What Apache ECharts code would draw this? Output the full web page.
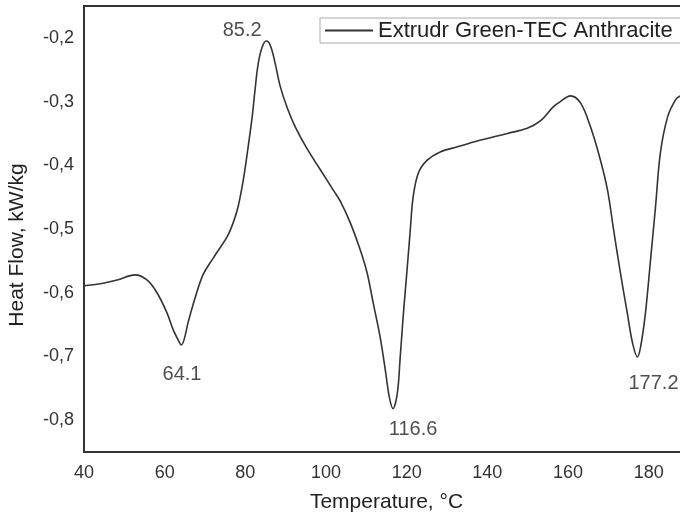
<!DOCTYPE html>
<html lang="en">
<head>
    <meta charset="UTF-8">
    <title>DSC</title>
    <style>
        body { margin: 0; background: #fff; }
    </style>
</head>
<body>
<div id="main" style="width: 680px;height:519px;"></div>
<script src="https://cdn.jsdelivr.net/npm/echarts@6/dist/echarts.min.js"></script>
<script>
    // curve: temperature (°C) / heat flow (kW/kg)
    var tempX = [40, 44, 48.2, 52.7, 55.6, 58.1, 60.6, 62.1, 63.5, 64.1, 64.8, 65.8, 67.5, 69.5, 72,
        75.5, 77, 78.2, 79.5, 80.7, 81.7, 82.4, 83.2, 84.2, 85.2, 86.2, 87.4, 88.6, 90.4, 92.4,
        95.3, 98.6, 101.8, 103.5, 106, 108.5, 110.2, 111.7, 113.4, 114.7, 115.7, 116.6, 117.7,
        118.4, 119.2, 120.1, 120.9, 121.6, 122.9, 125.1, 128.3, 132.6, 137.5, 145, 149.9, 153.2,
        156.4, 158.1, 160.6, 163.1, 165.6, 168, 169.8, 171.3, 173, 174.7, 176, 177.2, 178,
        179.2, 180.4, 181.7, 182.9, 184.7, 186.7, 187.9, 189.5];
    var heatY = [-0.589, -0.586, -0.580, -0.572, -0.580, -0.600, -0.632, -0.658, -0.676, -0.682, -0.674, -0.647, -0.609, -0.572, -0.546,
        -0.512, -0.490, -0.465, -0.423, -0.371, -0.324, -0.282, -0.240, -0.214, -0.205, -0.212, -0.240, -0.275, -0.310, -0.340,
        -0.374, -0.407, -0.439, -0.456, -0.490, -0.533, -0.569, -0.616, -0.669, -0.721, -0.764, -0.782, -0.757,
        -0.701, -0.632, -0.564, -0.501, -0.450, -0.412, -0.392, -0.379, -0.371, -0.362, -0.350, -0.342, -0.330,
        -0.308, -0.300, -0.291, -0.302, -0.340, -0.391, -0.439, -0.501, -0.569, -0.632, -0.679, -0.701, -0.685,
        -0.632, -0.553, -0.465, -0.381, -0.324, -0.297, -0.291, -0.287];

    // peak annotations (text placed at these data positions)
    var annX = [79.2, 64.3, 121.6, 181.2];
    var annY = [-0.189, -0.729, -0.815, -0.742];
    var annText = ['85.2', '64.1', '116.6', '177.2'];

    var seriesName = 'Extrudr Green-TEC Anthracite';

    var myChart = echarts.init(document.getElementById('main'));

    var lineData = tempX.map(function (x, i) { return [x, heatY[i]]; });
    var annData = annX.map(function (x, i) {
        return { value: [x, annY[i]], label: { formatter: annText[i] } };
    });

    var font = 'Liberation Sans, Arial, sans-serif';

    var option = {
        animation: false,
        textStyle: { fontFamily: font },
        grid: {
            left: 84,
            top: 6,
            width: 605,
            height: 446,
            outerBoundsMode: 'none',
            containLabel: false,
            show: true,
            borderColor: '#333',
            borderWidth: 2
        },
        legend: {
            data: [seriesName],
            left: 320,
            top: 18,
            padding: [1, 14, 1, 5],
            icon: 'rect',
            itemWidth: 48,
            itemHeight: 2,
            itemGap: 5,
            borderColor: '#aaa',
            borderWidth: 1,
            textStyle: { fontSize: 22, color: '#222', fontFamily: font, lineHeight: 23 }
        },
        xAxis: {
            type: 'value',
            min: 40,
            max: 190,
            interval: 20,
            name: 'Temperature, °C',
            nameLocation: 'middle',
            nameGap: 40,
            nameTextStyle: { fontSize: 21, color: '#222', fontFamily: font },
            axisLine: { show: false },
            axisTick: { show: false },
            splitLine: { show: false },
            axisLabel: {
                fontSize: 18, color: '#333', margin: 12, fontFamily: font,
                formatter: function (v) { return v >= 190 ? '' : v; }
            }
        },
        yAxis: {
            type: 'value',
            min: -0.85,
            max: -0.15,
            interval: 0.05,
            name: 'Heat Flow, kW/kg',
            nameLocation: 'middle',
            nameGap: 56,
            nameTextStyle: { fontSize: 21, color: '#222', fontFamily: font, padding: [0, 32, 0, 0] },
            axisLine: { show: false },
            axisTick: { show: false },
            splitLine: { show: false },
            axisLabel: {
                fontSize: 18, color: '#333', margin: 10, fontFamily: font,
                formatter: function (v) {
                    var r = Math.round(v * 100);
                    if (r % 10 !== 0) return '';
                    return (r / 100).toFixed(1).replace('.', ',');
                }
            }
        },
        series: [
            {
                name: seriesName,
                type: 'line',
                data: lineData,
                smooth: 0.35,
                symbol: 'none',
                lineStyle: { color: '#333', width: 1.6 },
                itemStyle: { color: '#333' }
            },
            {
                name: 'peaks',
                type: 'scatter',
                data: annData,
                symbolSize: 1,
                itemStyle: { color: 'rgba(0,0,0,0)' },
                silent: true,
                label: {
                    show: true,
                    position: 'inside',
                    fontSize: 20,
                    color: '#222',
                    fontFamily: font
                }
            }
        ]
    };

    myChart.setOption(option);
</script>
</body>
</html>
